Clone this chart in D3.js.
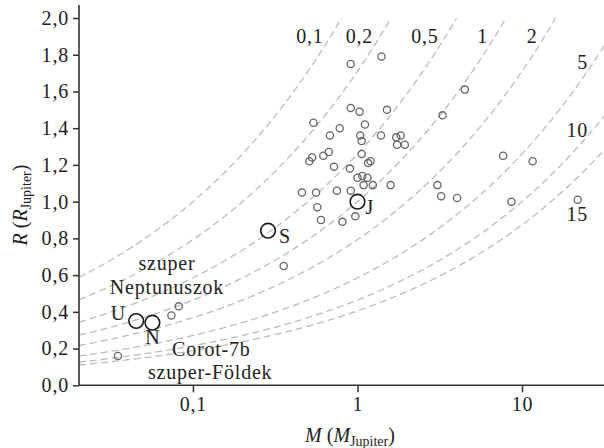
<!DOCTYPE html>
<html lang="hu">
<head>
<meta charset="utf-8">
<title>Exobolygók: tömeg és sugár</title>
<script src="https://cdnjs.cloudflare.com/ajax/libs/d3/7.8.5/d3.min.js"></script>
<style>
  body { margin: 0; background: #fff; }
  svg text { font-family: "Liberation Serif", "DejaVu Serif", serif; fill: #222; }
</style>
</head>
<body>
<script>
// mass (M_Jupiter) and radius (R_Jupiter) of the measured exoplanets
var planetMass = [0.91, 1.40, 0.91, 1.03, 1.51, 0.54, 0.78, 1.11, 0.68, 1.04,
                  1.06, 1.39, 1.72, 1.74, 1.83, 1.94, 0.51, 0.53, 0.62, 0.67,
                  1.06, 1.16, 1.20, 0.72, 0.90, 1.00, 1.07, 1.15, 1.09, 1.24,
                  1.59, 0.46, 0.56, 0.75, 0.91, 0.57, 0.60, 0.81, 0.97, 4.49,
                  3.29, 7.68, 11.6, 3.06, 3.23, 4.03, 8.63, 21.8, 0.356, 0.074,
                  0.082, 0.035];
var planetRadius = [1.75, 1.79, 1.51, 1.49, 1.50, 1.43, 1.40, 1.42, 1.36, 1.36,
                    1.33, 1.36, 1.35, 1.31, 1.36, 1.31, 1.22, 1.24, 1.25, 1.27,
                    1.26, 1.21, 1.22, 1.19, 1.18, 1.13, 1.14, 1.13, 1.09, 1.09,
                    1.09, 1.05, 1.05, 1.06, 1.06, 0.97, 0.90, 0.89, 0.92, 1.61,
                    1.47, 1.25, 1.22, 1.09, 1.03, 1.02, 1.00, 1.01, 0.65, 0.38,
                    0.43, 0.16];

// solar system giants
var solarNames = ["J", "S", "U", "N"];
var solarMass = [1.0, 0.286, 0.0452, 0.0567];
var solarRadius = [1.0, 0.842, 0.350, 0.341];

// iso-density curves
var densities = [0.1, 0.2, 0.5, 1, 2, 5, 10, 15];
var densityLabels = ["0,1", "0,2", "0,5", "1", "2", "5", "10", "15"];

var xTicks = [0.1, 1, 10];
var xTickLabels = ["0,1", "1", "10"];
var yTicks = [0, 0.2, 0.4, 0.6, 0.8, 1.0, 1.2, 1.4, 1.6, 1.8, 2.0];

var W = 604, H = 448;
var margin = {top: 5, right: 0, bottom: 63, left: 79};

var svg = d3.select("body").append("svg")
    .attr("width", W)
    .attr("height", H);

var x = d3.scaleLog()
    .domain([0.0203, 31.5])
    .range([margin.left, W - margin.right]);
var y = d3.scaleLinear()
    .domain([0, 2.0])
    .range([385.3, 18]);

var hu = d3.formatLocale({decimal: ",", thousands: " ", grouping: [3], currency: ["", " Ft"]});
var fmt = hu.format(".1f");

// density curves R = (M / rho)^(1/3)
var line = d3.line()
    .x(function(d) { return x(d[0]); })
    .y(function(d) { return y(d[1]); });

var logMin = Math.log10(x.domain()[0]);
densities.forEach(function(rho) {
    var mMax = Math.min(rho * 8, x.domain()[1]);
    var logMax = Math.log10(mMax);
    var pts = d3.range(0, 201).map(function(i) {
        var m = Math.pow(10, logMin + (logMax - logMin) * i / 200);
        return [m, Math.cbrt(m / rho)];
    });
    svg.append("path")
        .attr("d", line(pts))
        .attr("fill", "none")
        .attr("stroke", "#bcbcbc")
        .attr("stroke-width", 1.3)
        .attr("stroke-dasharray", "7,4");
});

// density labels
densities.forEach(function(rho, i) {
    var tx, ty;
    if (i < 5) {
        var r = 1.9;
        tx = x(rho * r * r * r) - 7;
        ty = y(r) + 6.5;
    } else {
        tx = W - 16;
        ty = [69, 137, 221][i - 5];
    }
    svg.append("text")
        .attr("x", tx)
        .attr("y", ty)
        .attr("text-anchor", "end")
        .attr("font-size", 20)
        .attr("letter-spacing", 0.8)
        .text(densityLabels[i]);
});

// axes
var yAxis = svg.append("g")
    .attr("transform", "translate(" + margin.left + ",0)")
    .call(d3.axisLeft(y).tickValues(yTicks).tickFormat(fmt).tickSize(6).tickPadding(4));
var xAxis = svg.append("g")
    .attr("transform", "translate(0," + y(0) + ")")
    .call(d3.axisBottom(x).tickValues(xTicks)
        .tickFormat(function(d, i) { return xTickLabels[i]; })
        .tickSize(7).tickPadding(5));

[xAxis, yAxis].forEach(function(a) {
    a.select(".domain").remove();
    a.selectAll("line").attr("stroke", "#333").attr("stroke-width", 1.5);
    a.selectAll("text")
        .attr("font-size", 20)
        .attr("letter-spacing", 0.8)
        .attr("fill", "#222")
        .style("font-family", "'Liberation Serif', serif");
});
svg.append("line")
    .attr("x1", margin.left).attr("x2", margin.left)
    .attr("y1", margin.top).attr("y2", y(0))
    .attr("stroke", "#333").attr("stroke-width", 1.6);
svg.append("line")
    .attr("x1", margin.left).attr("x2", W)
    .attr("y1", y(0)).attr("y2", y(0))
    .attr("stroke", "#333").attr("stroke-width", 1.6);

// exoplanets
svg.append("g").selectAll("circle")
    .data(planetMass)
    .enter()
    .append("circle")
    .attr("cx", function(d) { return x(d); })
    .attr("cy", function(d, i) { return y(planetRadius[i]); })
    .attr("r", 3.6)
    .attr("fill", "none")
    .attr("stroke", "#666")
    .attr("stroke-width", 1.3);

// solar system planets
var labelOffsets = [[8, 12.5, "start"], [11, 12, "start"], [-11, -1, "end"], [0, 21, "middle"]];
svg.append("g").selectAll("circle")
    .data(solarMass)
    .enter()
    .append("circle")
    .attr("cx", function(d) { return x(d); })
    .attr("cy", function(d, i) { return y(solarRadius[i]); })
    .attr("r", 7.3)
    .attr("fill", "none")
    .attr("stroke", "#1a1a1a")
    .attr("stroke-width", 1.6);
svg.append("g").selectAll("text")
    .data(solarNames)
    .enter()
    .append("text")
    .attr("x", function(d, i) { return x(solarMass[i]) + labelOffsets[i][0]; })
    .attr("y", function(d, i) { return y(solarRadius[i]) + labelOffsets[i][1]; })
    .attr("text-anchor", function(d, i) { return labelOffsets[i][2]; })
    .attr("font-size", 20)
    .text(function(d) { return d; });

// annotations
var notes = [
    {t: "szuper", x: 167, y: 270, a: "middle"},
    {t: "Neptunuszok", x: 167, y: 294, a: "middle"},
    {t: "Corot-7b", x: 172, y: 356, a: "start"},
    {t: "szuper-Földek", x: 148, y: 379, a: "start"}
];
notes.forEach(function(n) {
    svg.append("text")
        .attr("x", n.x).attr("y", n.y)
        .attr("text-anchor", n.a)
        .attr("font-size", 20)
        .attr("letter-spacing", 0.8)
        .text(n.t);
});

// axis titles
var xt = svg.append("text")
    .attr("x", 350).attr("y", 442)
    .attr("text-anchor", "middle")
    .attr("font-size", 20);
xt.append("tspan").attr("font-style", "italic").text("M");
xt.append("tspan").text(" (");
xt.append("tspan").attr("font-style", "italic").text("M");
xt.append("tspan").attr("font-size", 14).attr("dy", 4).text("Jupiter");
xt.append("tspan").attr("dy", -4).text(")");

var yt = svg.append("text")
    .attr("transform", "translate(27,205) rotate(-90)")
    .attr("text-anchor", "middle")
    .attr("font-size", 20);
yt.append("tspan").attr("font-style", "italic").text("R");
yt.append("tspan").text(" (");
yt.append("tspan").attr("font-style", "italic").text("R");
yt.append("tspan").attr("font-size", 14).attr("dy", 4).text("Jupiter");
yt.append("tspan").attr("dy", -4).text(")");
</script>
</body>
</html>
